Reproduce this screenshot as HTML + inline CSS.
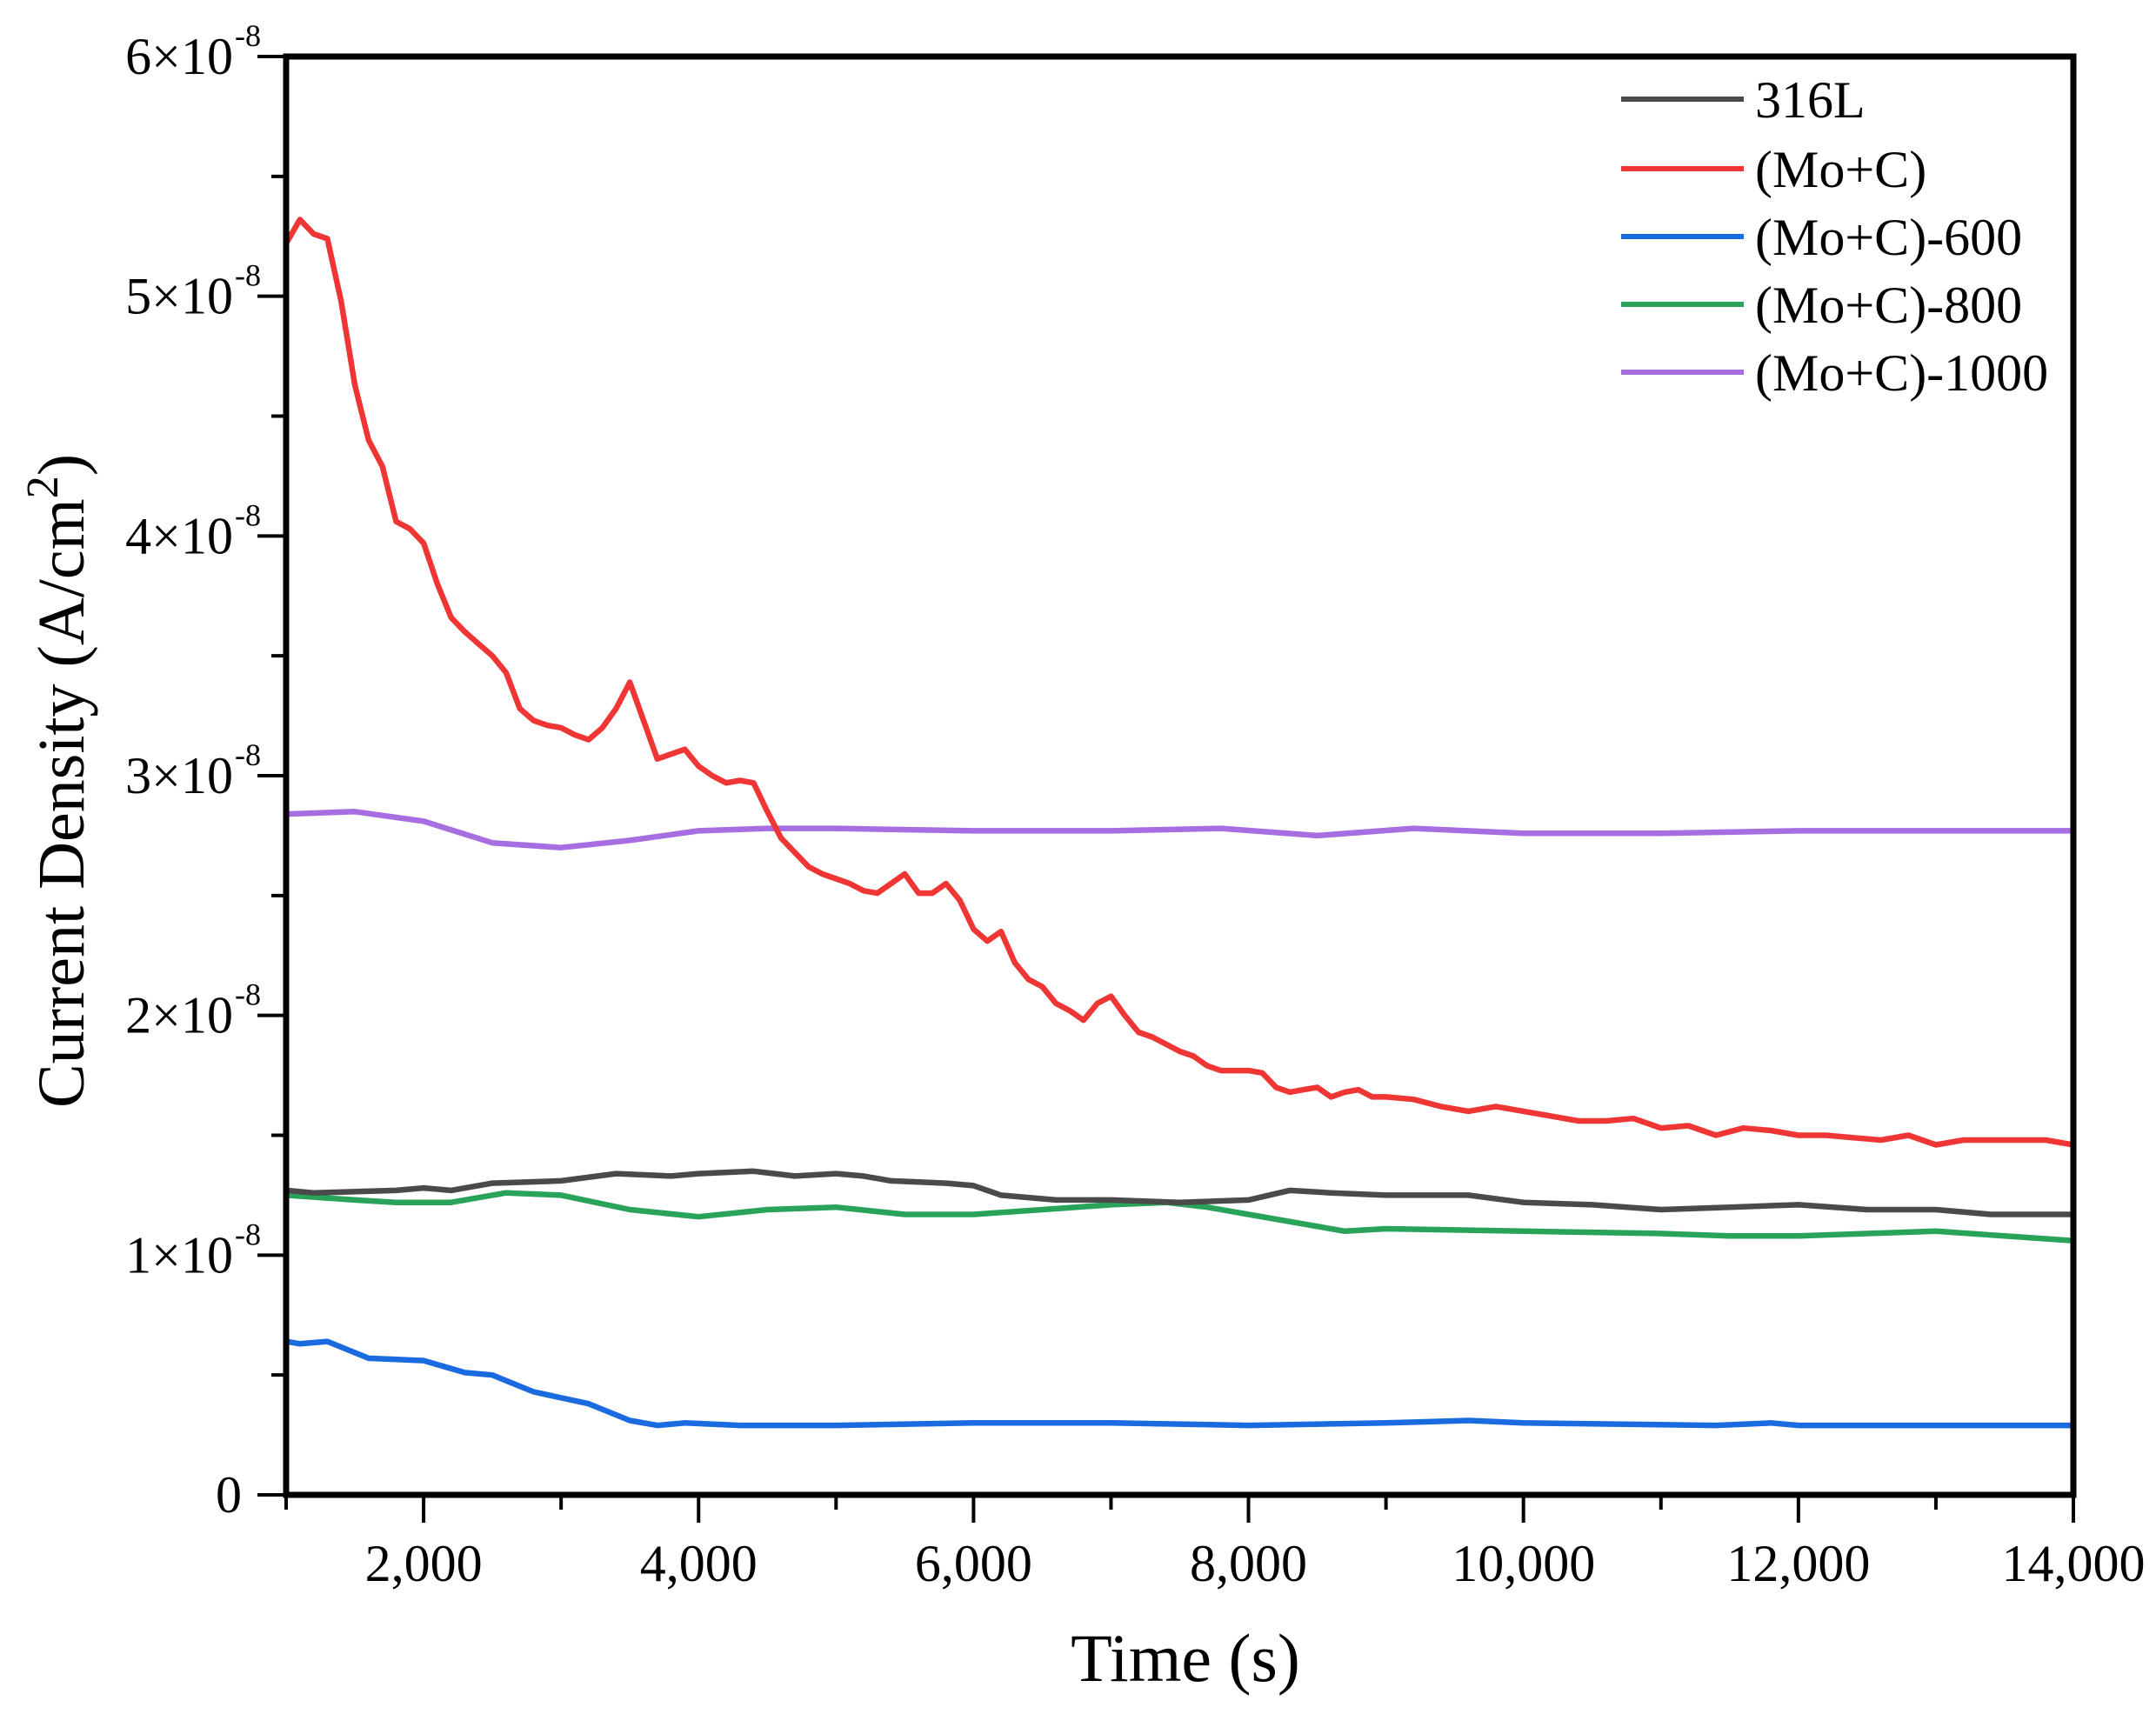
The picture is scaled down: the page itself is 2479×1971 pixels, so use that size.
<!DOCTYPE html>
<html><head><meta charset="utf-8"><style>
html,body{margin:0;padding:0;background:#fff;}
svg{display:block;font-family:"Liberation Serif",serif;}
</style></head><body>
<svg id="chart" width="2479" height="1971" viewBox="0 0 2479 1971" xmlns="http://www.w3.org/2000/svg">
<g id="plot"></g>
<g id="axes"></g>
<g id="legend"></g>
<text x="1363" y="1933" font-size="78" text-anchor="middle">Time (s)</text>
<text transform="translate(96,898) rotate(-90)" font-size="76" text-anchor="middle">Current Density (A/cm<tspan font-size="52" dy="-30">2</tspan><tspan dy="30">)</tspan></text>
</svg>
<script>
const xTicks = [2000,4000,6000,8000,10000,12000,14000];
const xTickLabels = ["2,000","4,000","6,000","8,000","10,000","12,000","14,000"];
const yTicks = [0,1,2,3,4,5,6];
const yTickLabels = ["0","1×10","2×10","3×10","4×10","5×10","6×10"];
const seriesNames = ["316L","(Mo+C)","(Mo+C)-600","(Mo+C)-800","(Mo+C)-1000"];
const seriesColors = ["#4a4a4a","#f03535","#1a6ae0","#2aa35a","#a66ee0"];
const tBlack = [1000,1200,1800,2000,2200,2500,3000,3400,3800,4000,4400,4700,5000,5200,5400,5800,6000,6200,6600,7000,7500,8000,8300,8600,9000,9600,10000,10500,11000,11500,12000,12500,13000,13400,14000];
const vBlack = [1.27,1.26,1.27,1.28,1.27,1.30,1.31,1.34,1.33,1.34,1.35,1.33,1.34,1.33,1.31,1.30,1.29,1.25,1.23,1.23,1.22,1.23,1.27,1.26,1.25,1.25,1.22,1.21,1.19,1.20,1.21,1.19,1.19,1.17,1.17];
const tRed = [1000,1100,1200,1300,1400,1500,1600,1700,1800,1900,2000,2100,2200,2300,2400,2500,2600,2700,2800,2900,3000,3100,3200,3300,3400,3500,3600,3700,3800,3900,4000,4100,4200,4300,4400,4500,4600,4700,4800,4900,5000,5100,5200,5300,5400,5500,5600,5700,5800,5900,6000,6100,6200,6300,6400,6500,6600,6700,6800,6900,7000,7100,7200,7300,7400,7500,7600,7700,7800,7900,8000,8100,8200,8300,8400,8500,8600,8700,8800,8900,9000,9200,9400,9600,9800,10000,10200,10400,10600,10800,11000,11200,11400,11600,11800,12000,12200,12400,12600,12800,13000,13200,13400,13600,13800,14000];
const vRed = [5.22,5.32,5.26,5.24,4.98,4.63,4.40,4.29,4.06,4.03,3.97,3.80,3.66,3.60,3.55,3.50,3.43,3.28,3.23,3.21,3.20,3.17,3.15,3.20,3.28,3.39,3.23,3.07,3.09,3.11,3.04,3.00,2.97,2.98,2.97,2.85,2.74,2.68,2.62,2.59,2.57,2.55,2.52,2.51,2.55,2.59,2.51,2.51,2.55,2.48,2.36,2.31,2.35,2.22,2.15,2.12,2.05,2.02,1.98,2.05,2.08,2.00,1.93,1.91,1.88,1.85,1.83,1.79,1.77,1.77,1.77,1.76,1.70,1.68,1.69,1.70,1.66,1.68,1.69,1.66,1.66,1.65,1.62,1.60,1.62,1.60,1.58,1.56,1.56,1.57,1.53,1.54,1.50,1.53,1.52,1.50,1.50,1.49,1.48,1.50,1.46,1.48,1.48,1.48,1.48,1.46];
const tBlue = [1000,1100,1300,1600,2000,2300,2500,2800,3200,3500,3700,3900,4300,5000,6000,7000,8000,9000,9600,10000,11400,11800,12000,14000];
const vBlue = [0.64,0.63,0.64,0.57,0.56,0.51,0.50,0.43,0.38,0.31,0.29,0.30,0.29,0.29,0.30,0.30,0.29,0.30,0.31,0.30,0.29,0.30,0.29,0.29];
const tGreen = [1000,1500,1800,2200,2600,3000,3500,4000,4500,5000,5500,6000,6500,7000,7400,7700,8000,8400,8700,9000,10000,11000,11500,12000,12500,13000,13500,14000];
const vGreen = [1.25,1.23,1.22,1.22,1.26,1.25,1.19,1.16,1.19,1.20,1.17,1.17,1.19,1.21,1.22,1.20,1.17,1.13,1.10,1.11,1.10,1.09,1.08,1.08,1.09,1.10,1.08,1.06];
const tPurple = [1000,1500,2000,2500,3000,3500,4000,4500,5000,6000,7000,7800,8500,9200,10000,11000,12000,13000,14000];
const vPurple = [2.84,2.85,2.81,2.72,2.70,2.73,2.77,2.78,2.78,2.77,2.77,2.78,2.75,2.78,2.76,2.76,2.77,2.77,2.77];

const L=329,R=2384,T=65,B=1719, X0=1000,X1=14000, Y0=0,Y1=6;
const sx=v=>L+(v-X0)/(X1-X0)*(R-L);
const sy=v=>B-(v-Y0)/(Y1-Y0)*(B-T);
const NS="http://www.w3.org/2000/svg";
function mk(tag,attrs,parent){const e=document.createElementNS(NS,tag);for(const k in attrs)e.setAttribute(k,attrs[k]);parent.appendChild(e);return e;}
const plot=document.getElementById('plot'),axes=document.getElementById('axes'),legend=document.getElementById('legend');
const series=[[tBlack,vBlack],[tRed,vRed],[tBlue,vBlue],[tGreen,vGreen],[tPurple,vPurple]];
const order=[4,3,0,2,1];
order.forEach(i=>{
  const [t,v]=series[i];
  const d=t.map((x,j)=>(j?'L':'M')+sx(x).toFixed(1)+','+sy(v[j]).toFixed(1)).join(' ');
  const p=mk('path',{d:d,fill:'none',stroke:seriesColors[i],'stroke-width':6.5,'stroke-linejoin':'round'},plot);
  
  
});
const fr=mk('rect',{x:L,y:T,width:R-L,height:B-T,fill:'none',stroke:'#000','stroke-width':7},axes);


for(let v=X0;v<=X1;v+=1000){
  const major=(v%2000===0);
  const tk=mk('line',{x1:sx(v),x2:sx(v),y1:B,y2:B+(major?32:17),stroke:'#000','stroke-width':4},axes);
  
  
}
xTicks.forEach((v,i)=>{
  const tx=mk('text',{x:sx(v),y:1818,'font-size':60,'text-anchor':'middle'},axes);
  tx.textContent=xTickLabels[i];
  
  
});
for(let v=Y0;v<=Y1;v+=0.5){
  const major=(v%1===0);
  const tk=mk('line',{x1:L,x2:L-(major?33:17),y1:sy(v),y2:sy(v),stroke:'#000','stroke-width':4},axes);
  
  
}
yTicks.forEach((v,i)=>{
  const tx=mk('text',{x:v===0?278:268,y:sy(v)+20,'font-size':60,'text-anchor':'end'},axes);
  tx.textContent=yTickLabels[i];
  
  
  if(v!==0){
    const sp=mk('text',{x:270,y:sy(v)-12,'font-size':36,'text-anchor':'start'},axes);
    sp.textContent='-8';
    
    
  }
});
const ly=[114,194,272,350,428];
seriesNames.forEach((n,i)=>{
  const ln=mk('line',{x1:1864,x2:2005,y1:ly[i],y2:ly[i],stroke:seriesColors[i],'stroke-width':6},legend);
  
  
  const tx=mk('text',{x:2018,y:ly[i]+21,'font-size':60},legend);
  tx.textContent=n;
  
  
});
</script>
</body></html>
